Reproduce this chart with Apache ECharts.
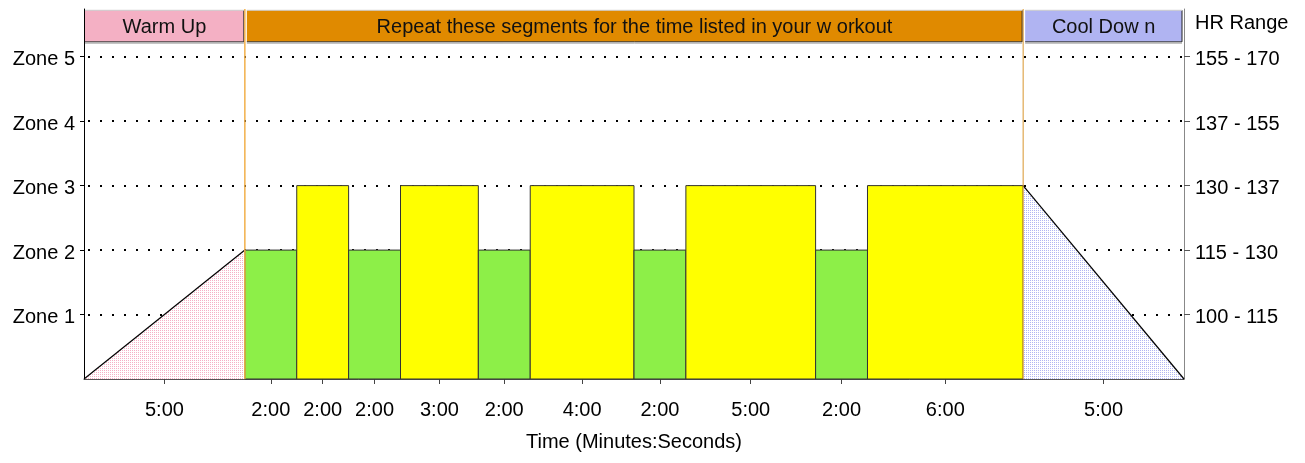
<!DOCTYPE html>
<html><head><meta charset="utf-8">
<script src="https://cdn.jsdelivr.net/npm/echarts@6/dist/echarts.min.js"></script>
<style>html,body{margin:0;padding:0;background:#fff}#c{width:1305px;height:463px}</style>
</head><body><div id="c"></div>
<script>
// ---- data ----
const segLabels = ['5:00','2:00','2:00','2:00','3:00','2:00','4:00','2:00','5:00','2:00','6:00','5:00'];
// drawn horizontal extent of each segment (warm-up / cool-down are drawn wider)
const segWidths = [6.2,2,2,2,3,2,4,2,5,2,6,6.2];
const segZoneStart = [0,2,3,2,3,2,3,2,3,2,3,3];
const segZoneEnd   = [2,2,3,2,3,2,3,2,3,2,3,0];
const segKind = ['warm','rec','work','rec','work','rec','work','rec','work','rec','work','cool'];
const zoneValues = [1,2,3,4,5];
const zoneLabels = ['Zone 1','Zone 2','Zone 3','Zone 4','Zone 5'];
const hrLabels = ['100 - 115','115 - 130','130 - 137','137 - 155','155 - 170'];
const bannerLabels = ['Warm Up','Repeat these segments for the time listed in your w orkout','Cool Dow n'];
const bannerFirstSeg = [0,1,11];
const bannerLastSeg = [0,10,11];

// ---- derived ----
const segStart = [];
let acc = 0;
segWidths.forEach(w => { segStart.push(acc); acc += w; });
const total = acc;
const segEnd = segStart.map((s,i) => s + segWidths[i]);
const centers = segStart.map((s,i) => s + segWidths[i]/2);
const YMAX = 5.74, BAN_TOP = 5.72, BAN_BOT = 5.23;

const FONT = "'Liberation Sans', Arial, sans-serif";
const FS = 20;
const fillColors = { work: '#ffff00', rec: '#8def48' };
const bannerColors = ['#f4b0c4', '#e08a00', '#b0b4f2'];

function pattern(dot){
  const c = document.createElement('canvas'); c.width = 2; c.height = 2;
  const g = c.getContext('2d');
  g.fillStyle = '#fff'; g.fillRect(0,0,2,2);
  g.fillStyle = dot; g.fillRect(0,0,1,1);
  return { image: c, repeat: 'repeat' };
}
const patterns = { warm: pattern('#f5b0c6'), cool: pattern('#b2b6f2') };

const segData = segStart.map((s,i) => [s, segEnd[i], segZoneStart[i], segZoneEnd[i], i]);
const bannerData = bannerLabels.map((l,i) => [segStart[bannerFirstSeg[i]], segEnd[bannerLastSeg[i]], i]);
const markerData = [segEnd[0], segStart[11]];

const richLbl = { t: { fontFamily: FONT, fontSize: FS, color: '#000', padding: [6,0,0,0] } };

const chart = echarts.init(document.getElementById('c'), null, {renderer: 'canvas'});
chart.setOption({
  animation: false,
  backgroundColor: '#fff',
  grid: { left: 84, right: 121, top: 9, bottom: 84 },
  xAxis: {
    type: 'value', min: 0, max: total,
    name: 'Time (Minutes:Seconds)', nameLocation: 'middle', nameGap: 53,
    nameTextStyle: { fontFamily: FONT, fontSize: FS, color: '#000' },
    axisLine: { lineStyle: { color: '#555', width: 1 } },
    axisTick: { show: true, customValues: centers, length: 5, lineStyle: { color: '#444' } },
    axisLabel: {
      customValues: centers, margin: 21, fontFamily: FONT, fontSize: FS, color: '#000',
      formatter: v => {
        let best = 0;
        centers.forEach((c,i) => { if (Math.abs(c - v) < Math.abs(centers[best] - v)) best = i; });
        return segLabels[best];
      }
    },
    splitLine: { show: false }
  },
  yAxis: [{
    type: 'value', min: 0, max: YMAX, position: 'left',
    axisLine: { show: true, lineStyle: { color: '#000' } },
    axisTick: { show: true, customValues: zoneValues, length: 4, lineStyle: { color: '#000' } },
    axisLabel: { customValues: zoneValues, margin: 9, rich: richLbl,
      formatter: v => { const s = zoneLabels[zoneValues.indexOf(Math.round(v))]; return s ? '{t|' + s + '}' : ''; } },
    splitLine: { show: false }
  }, {
    type: 'value', min: 0, max: YMAX, position: 'right',
    axisLine: { show: true, lineStyle: { color: '#888' } },
    axisTick: { show: true, customValues: zoneValues, length: 6, lineStyle: { color: '#555' } },
    axisLabel: { customValues: zoneValues, margin: 11, rich: richLbl,
      formatter: v => { const s = hrLabels[zoneValues.indexOf(Math.round(v))]; return s ? '{t|' + s + '}' : ''; } },
    splitLine: { show: false }
  }],
  graphic: [{
    type: 'text', left: 1195, top: 13,
    style: { text: 'HR Range', font: FS + 'px ' + FONT, fill: '#000' }
  }],
  series: [
    { // dotted zone grid lines
      type: 'custom', z: 1, data: zoneValues,
      renderItem: (params, api) => {
        const a = api.coord([0, api.value(0)]), b = api.coord([total, api.value(0)]);
        return { type: 'line', shape: { x1: a[0]+4, y1: Math.round(a[1]), x2: b[0], y2: Math.round(b[1]) },
          style: { stroke: '#000', lineWidth: 2, lineDash: [2, 10] } };
      }
    },
    { // segments
      type: 'custom', z: 2, data: segData,
      renderItem: (params, api) => {
        const s = api.value(0), e = api.value(1), z0 = api.value(2), z1 = api.value(3), i = api.value(4);
        const kind = segKind[i];
        const b0 = api.coord([s, 0]), b1 = api.coord([e, 0]);
        const t0 = api.coord([s, z0]), t1 = api.coord([e, z1]);
        if (kind === 'warm' || kind === 'cool') {
          return { type: 'group', children: [
            { type: 'polygon', shape: { points: [b0, t0, t1, b1] }, style: { fill: patterns[kind], stroke: null } },
            { type: 'line', shape: { x1: t0[0], y1: t0[1], x2: t1[0], y2: t1[1] }, style: { stroke: '#000', lineWidth: 1.2 } }
          ]};
        }
        return { type: 'rect', shape: { x: b0[0], y: t0[1], width: b1[0]-b0[0], height: b0[1]-t0[1] },
          style: { fill: fillColors[kind], stroke: '#333', lineWidth: 1 } };
      }
    },
    { // banners
      type: 'custom', z: 3, data: bannerData,
      renderItem: (params, api) => {
        const s = api.value(0), e = api.value(1), i = api.value(2);
        const a = api.coord([s, BAN_TOP]), b = api.coord([e, BAN_BOT]);
        const x0 = a[0] + (i === 0 ? 1 : 2), x1 = b[0] - (i === 2 ? 2 : 1);
        return { type: 'group', children: [
          { type: 'rect', shape: { x: x0, y: a[1], width: x1-x0, height: b[1]-a[1] },
            style: { fill: bannerColors[i], stroke: null } },
          { type: 'line', shape: { x1: x0, y1: b[1], x2: x1, y2: b[1] }, style: { stroke: '#222', lineWidth: 1 } },
          { type: 'line', shape: { x1: x1, y1: a[1], x2: x1, y2: b[1] }, style: { stroke: '#222', lineWidth: 1 } },
          { type: 'line', shape: { x1: x0, y1: a[1], x2: x1, y2: a[1] }, style: { stroke: '#ccc', lineWidth: 1 } },
          { type: 'line', shape: { x1: x0, y1: b[1]+1.5, x2: x1, y2: b[1]+1.5 }, style: { stroke: '#bbb', lineWidth: 1 } },
          { type: 'text', style: { text: bannerLabels[i], x: (x0+x1)/2, y: (a[1]+b[1])/2 + 1,
              align: 'center', verticalAlign: 'middle', font: FS + 'px ' + FONT, fill: '#111' } }
        ]};
      }
    },
    { // section markers
      type: 'custom', z: 4, data: markerData,
      renderItem: (params, api) => {
        const a = api.coord([api.value(0), YMAX]), b = api.coord([api.value(0), 0]);
        const first = params.dataIndex === 0;
        return { type: 'line', shape: { x1: a[0], y1: a[1], x2: b[0], y2: b[1] },
          style: { stroke: first ? '#f2b04a' : '#d8962e', lineWidth: first ? 1.5 : 1 } };
      }
    }
  ]
});
</script></body></html>
